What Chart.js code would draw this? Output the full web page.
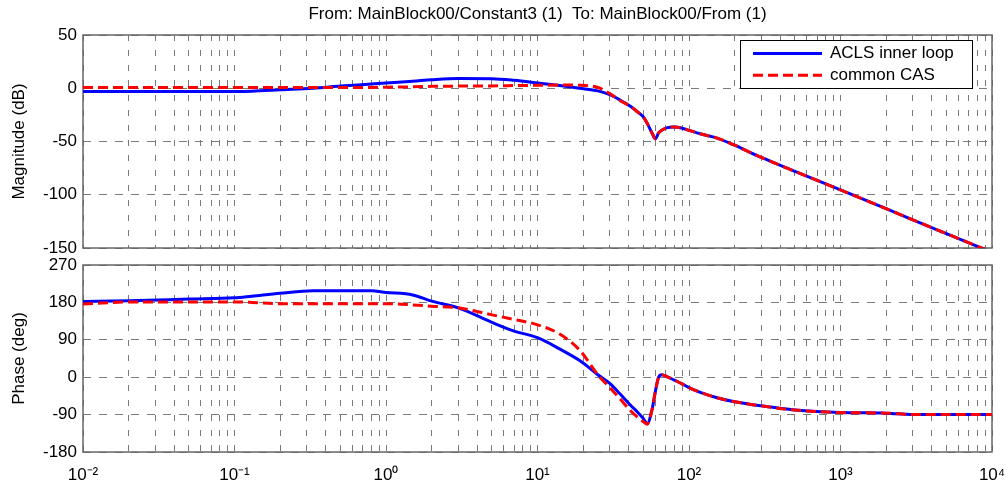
<!DOCTYPE html>
<html>
<head>
<meta charset="utf-8">
<script src="https://cdn.jsdelivr.net/npm/chart.js@4.4.1/dist/chart.umd.min.js"></script>
<style>
  html, body { margin: 0; padding: 0; background: #fff; }
  #wrap { position: relative; width: 1006px; height: 491px; overflow: hidden; }
  .box { position: absolute; left: 0; width: 1006px; }
  #magBox { top: 0; height: 256px; }
  #phaseBox { top: 256px; height: 235px; }
</style>
</head>
<body>
<div id="wrap">
  <div class="box" id="magBox"><canvas id="magChart"></canvas></div>
  <div class="box" id="phaseBox"><canvas id="phaseChart"></canvas></div>
</div>
<script>
// Bode plot: ACLS inner loop vs common CAS

const headerText = 'From: MainBlock00/Constant3 (1)  To: MainBlock00/From (1)';
const seriesNames = ['ACLS inner loop', 'common CAS'];

// x axis (rad/s), decades and their labels
const decades = [0.01, 0.1, 1, 10, 100, 1000, 10000];
const decadeLabels = ['10⁻²', '10⁻¹', '10⁰', '10¹', '10²', '10³', '10⁴'];

// y axis ticks
const magTicks = [50, 0, -50, -100, -150];
const phaseTicks = [270, 180, 90, 0, -90, -180];

// values
const freq = [0.01, 0.02, 0.05, 0.1, 0.13, 0.2, 0.33, 0.5, 0.8, 1, 1.5, 2, 3, 5, 7, 10, 14, 19, 25, 30,
              35, 41, 46, 50, 53, 57, 60, 63, 66, 72, 80, 90, 100, 120, 155, 200, 300, 500, 1000, 2000,
              3000, 5000, 10000];

const aclsMag = [-3, -3, -3, -3, -2.8, -1.5, 0, 2, 4, 5, 6.6, 8, 9.2, 9, 7.5, 5, 2.5, 0, -2.5, -6,
                 -11, -17, -22.5, -27, -33, -42, -47.5, -42, -39.5, -37, -36.3, -37.5, -39.5, -43, -47, -53.5, -65, -78, -95.5, -113,
                 -123.5, -136.5, -154];
const casMag = [0.8, 0.8, 0.8, 0.8, 0.8, 0.8, 0.8, 0.8, 0.8, 1, 1.3, 1.8, 2, 2.2, 2.5, 2.8, 3, 2.8, 0.8, -5,
                -11.5, -17, -22.5, -27, -33, -42, -47.5, -42, -39.5, -37, -36.3, -37.5, -39.5, -43, -47, -53.5, -65, -78, -95.5, -113,
                -123.5, -136.5, -154];

const aclsPhase = [182, 184, 188, 191, 195, 202, 208, 208, 208, 204, 198, 183, 167, 132, 111, 95, 68, 40, 6, -15,
                   -40, -67, -85, -100, -112, -78, -34, 0, 6, 1, -7, -16, -25, -37, -50, -59, -69, -79, -85, -86.5,
                   -90, -90, -90];
const casPhase = [176, 181, 181, 181, 180, 177, 177, 177, 177, 177, 174, 171, 167, 150, 139, 126, 104, 65, 6, -25,
                  -52, -80, -97, -107, -113, -78, -34, 0, 6, 1, -7, -16, -25, -37, -50, -59, -69, -79, -85, -86.5,
                  -90, -90, -90];

const FONT = "'Liberation Sans', Arial, Helvetica, sans-serif";
const GRID = '#7a7a7a';
const PLOT_LEFT = 83;
const LEGEND = { left: 740, top: 40, width: 232, height: 48 };

Chart.defaults.font.family = FONT;
Chart.defaults.font.size = 17;
Chart.defaults.color = '#000';

function pts(ys) {
    return freq.map((f, i) => ({ x: f, y: ys[i] }));
}

// gridlines at 1..9 x every decade
function logGridTicks() {
    const out = [];
    decades.forEach((d, i) => {
        const steps = i < decades.length - 1 ? 9 : 1;
        for (let k = 1; k <= steps; k++) out.push({ value: d * k });
    });
    return out;
}

// keep the plot box exactly where the layout padding puts it
function noOverflow(scale) {
    scale.paddingLeft = 0;
    scale.paddingRight = 0;
    scale.paddingTop = 0;
    scale.paddingBottom = 0;
}

function makeDatasets(blue, red) {
    return [
        {
            label: seriesNames[0],
            data: pts(blue),
            borderColor: '#0000ff',
            borderWidth: 3,
            pointRadius: 0,
            cubicInterpolationMode: 'monotone',
            order: 1
        },
        {
            label: seriesNames[1],
            data: pts(red),
            borderColor: '#ff0000',
            borderWidth: 3,
            borderDash: [10, 5],
            pointRadius: 0,
            cubicInterpolationMode: 'monotone',
            order: 0
        }
    ];
}

function makeOptions(yTicks, yTitle, showX, pad) {
    return {
        responsive: true,
        maintainAspectRatio: false,
        animation: false,
        layout: { padding: pad },
        plugins: { legend: { display: false }, tooltip: { enabled: false } },
        scales: {
            x: {
                type: 'logarithmic',
                min: decades[0],
                max: decades[decades.length - 1],
                afterBuildTicks: scale => { scale.ticks = logGridTicks(); },
                afterFit: scale => {
                    scale.height = showX ? 30 : 0;
                    noOverflow(scale);
                },
                grid: { color: GRID, lineWidth: 1, drawTicks: false },
                border: { display: false, dash: [6, 9] },
                ticks: {
                    display: showX,
                    autoSkip: false,
                    maxRotation: 0,
                    padding: 13,
                    callback: value => {
                        const i = decades.findIndex(d => Math.abs(d - value) / d < 1e-6);
                        return i >= 0 ? decadeLabels[i] : '';
                    }
                }
            },
            y: {
                min: Math.min(...yTicks),
                max: Math.max(...yTicks),
                afterBuildTicks: scale => { scale.ticks = yTicks.map(v => ({ value: v })); },
                afterFit: scale => {
                    scale.width = PLOT_LEFT;
                    noOverflow(scale);
                },
                grid: { color: GRID, lineWidth: 1, drawTicks: false },
                border: { display: false, dash: [8, 8] },
                ticks: { padding: 6 },
                title: {
                    display: true,
                    text: yTitle,
                    padding: { top: 9, bottom: 0 }
                }
            }
        }
    };
}

// axes box
const framePlugin = {
    id: 'frame',
    beforeDatasetsDraw(chart) {
        const { ctx, chartArea: a } = chart;
        ctx.save();
        ctx.strokeStyle = '#666';
        ctx.lineWidth = 1.5;
        ctx.strokeRect(a.left, a.top, a.right - a.left, a.bottom - a.top);
        ctx.restore();
    }
};

// title over the top plot
const headerPlugin = {
    id: 'header',
    afterDraw(chart) {
        const { ctx, chartArea: a } = chart;
        ctx.save();
        ctx.font = '17px ' + FONT;
        ctx.fillStyle = '#000';
        ctx.textAlign = 'center';
        ctx.textBaseline = 'middle';
        ctx.fillText(headerText, (a.left + a.right) / 2, 14);
        ctx.restore();
    }
};

// boxed legend inside the top plot
const legendPlugin = {
    id: 'boxLegend',
    afterDraw(chart) {
        const ctx = chart.ctx;
        const { left, top, width, height } = LEGEND;
        ctx.save();
        ctx.fillStyle = '#fff';
        ctx.fillRect(left, top, width, height);
        ctx.strokeStyle = '#000';
        ctx.lineWidth = 1;
        ctx.strokeRect(left + 0.5, top + 0.5, width, height);
        chart.data.datasets.forEach((ds, i) => {
            const y = top + 13.5 + i * 21.7;
            ctx.strokeStyle = ds.borderColor;
            ctx.lineWidth = ds.borderWidth;
            ctx.setLineDash(ds.borderDash || []);
            ctx.beginPath();
            ctx.moveTo(left + 13, y);
            ctx.lineTo(left + 82, y);
            ctx.stroke();
            ctx.setLineDash([]);
            ctx.fillStyle = '#000';
            ctx.font = '17px ' + FONT;
            ctx.textAlign = 'left';
            ctx.textBaseline = 'middle';
            ctx.fillText(ds.label, left + 90, y);
        });
        ctx.restore();
    }
};

new Chart(document.getElementById('magChart'), {
    type: 'line',
    data: { datasets: makeDatasets(aclsMag, casMag) },
    options: makeOptions(magTicks, 'Magnitude (dB)', false, { top: 35, right: 14, left: 0, bottom: 8 }),
    plugins: [framePlugin, headerPlugin, legendPlugin]
});

new Chart(document.getElementById('phaseChart'), {
    type: 'line',
    data: { datasets: makeDatasets(aclsPhase, casPhase) },
    options: makeOptions(phaseTicks, 'Phase (deg)', true, { top: 9, right: 14, left: 0, bottom: 9 }),
    plugins: [framePlugin]
});
</script>
</body>
</html>
